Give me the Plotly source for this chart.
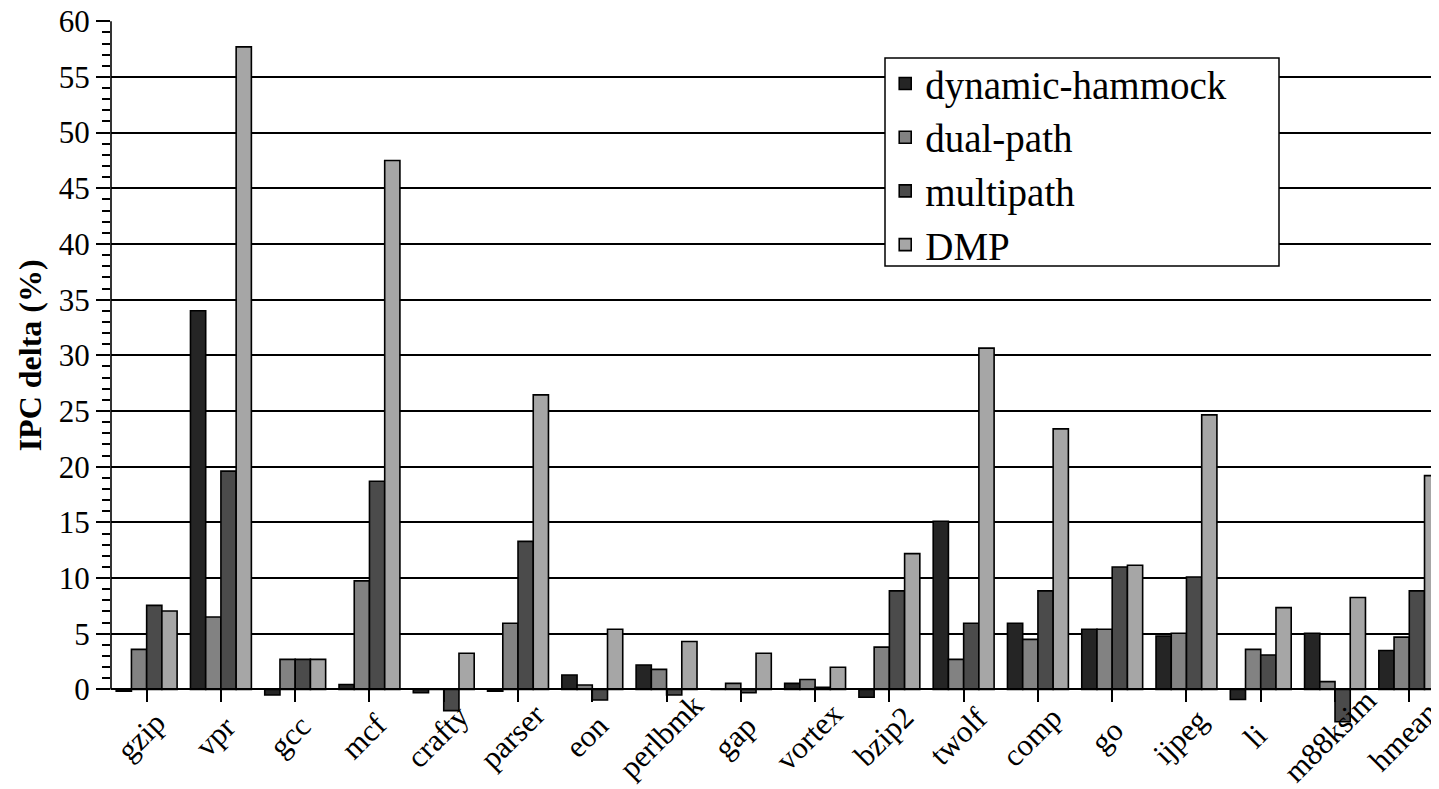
import plotly.graph_objects as go

categories = ["gzip", "vpr", "gcc", "mcf", "crafty", "parser", "eon", "perlbmk", "gap",
              "vortex", "bzip2", "twolf", "comp", "go", "ijpeg", "li", "m88ksim", "hmean"]
dynamic_hammock = [-0.15, 34.0, -0.5, 0.45, -0.3, -0.15, 1.3, 2.2, 0.0, 0.55, -0.7, 15.1, 5.95, 5.4, 4.8, -0.9, 5.05, 3.5]
dual_path = [3.6, 6.5, 2.7, 9.75, 0.0, 5.95, 0.4, 1.8, 0.55, 0.9, 3.8, 2.7, 4.5, 5.4, 5.05, 3.6, 0.7, 4.7]
multipath = [7.55, 19.6, 2.7, 18.7, -1.9, 13.3, -0.95, -0.5, -0.3, 0.2, 8.85, 5.95, 8.85, 11.0, 10.1, 3.1, -2.9, 8.85]
dmp = [7.05, 57.7, 2.7, 47.5, 3.25, 26.45, 5.4, 4.3, 3.25, 2.0, 12.2, 30.65, 23.4, 11.15, 24.65, 7.35, 8.25, 19.2]

series = [
    ("dynamic-hammock", dynamic_hammock, "#252525"),
    ("dual-path", dual_path, "#828282"),
    ("multipath", multipath, "#4b4b4b"),
    ("DMP", dmp, "#a6a6a6"),
]

FONT = "Liberation Serif, Times New Roman, serif"
YMIN, YMAX = -4, 60.02

fig = go.Figure()
for name, vals, col in series:
    fig.add_trace(go.Bar(
        x=categories, y=vals, name=name,
        marker=dict(color=col, line=dict(color="black", width=1.6)),
    ))

major = list(range(0, 61, 5))
minor = [v for v in range(0, 61) if v % 5 != 0]

# page body has an 8px margin, so the figure is 8px smaller than the window
fig.update_layout(
    width=1431, height=781,
    margin=dict(l=103, r=0, t=13, b=55),
    paper_bgcolor="white", plot_bgcolor="white",
    barmode="group", bargap=0.18, bargroupgap=0.0,
    font=dict(family=FONT, color="black", size=31),
    showlegend=True,
    legend=dict(
        x=0.583, y=0.957, xanchor="left", yanchor="top",
        bgcolor="rgba(0,0,0,0)", borderwidth=0,
        font=dict(family=FONT, size=39, color="black"),
        itemclick=False, itemdoubleclick=False,
    ),
    xaxis=dict(
        type="category", range=[-0.48, 17.4],
        anchor="free", position=(0 - YMIN) / (YMAX - YMIN),
        showline=True, linecolor="black", linewidth=1.6,
        ticks="outside", ticklen=12, tickwidth=1.5, tickcolor="black",
        showticklabels=False,
        showgrid=False, automargin=False,
    ),
    yaxis=dict(
        range=[YMIN, YMAX],
        showline=False,
        tickmode="array", tickvals=major, ticktext=[str(v) for v in major],
        ticks="outside", ticklen=14, tickwidth=1.5, tickcolor="black",
        tickfont=dict(family=FONT, size=31), ticklabeloverflow="allow",
        minor=dict(tickmode="array", tickvals=minor, ticks="outside",
                   ticklen=8, tickwidth=1.5, tickcolor="black", showgrid=False),
        showgrid=True, gridcolor="black", gridwidth=1.5,
        zeroline=True, zerolinecolor="black", zerolinewidth=1.6,
        automargin=False,
    ),
)

# category labels: rotated, centred under each tick
for cat in categories:
    fig.add_annotation(
        text=cat, textangle=-45, x=cat, xref="x",
        y=(734 - 736) / 713, yref="paper", xshift=-6,
        xanchor="center", yanchor="middle", showarrow=False,
        font=dict(family=FONT, size=31, color="black"),
    )

# y axis line spanning 0..60 only
fig.add_shape(type="line", xref="paper", yref="y", x0=0, x1=0, y0=0, y1=60,
              line=dict(color="black", width=1.6), layer="above")

# legend box
fig.add_shape(type="rect", xref="paper", yref="paper",
              x0=(885 - 111) / 1328, x1=(1279 - 111) / 1328,
              y0=(734 - 266) / 713, y1=(734 - 58) / 713,
              fillcolor="white", line=dict(color="black", width=1.5), layer="above")

fig.add_annotation(
    text="<b>IPC delta (%)</b>", textangle=-90,
    xref="paper", yref="y", x=(30 - 111) / 1328, y=30,
    xanchor="center", yanchor="middle", showarrow=False,
    font=dict(family=FONT, size=32, color="black"),
)

fig.write_html("out.html")
